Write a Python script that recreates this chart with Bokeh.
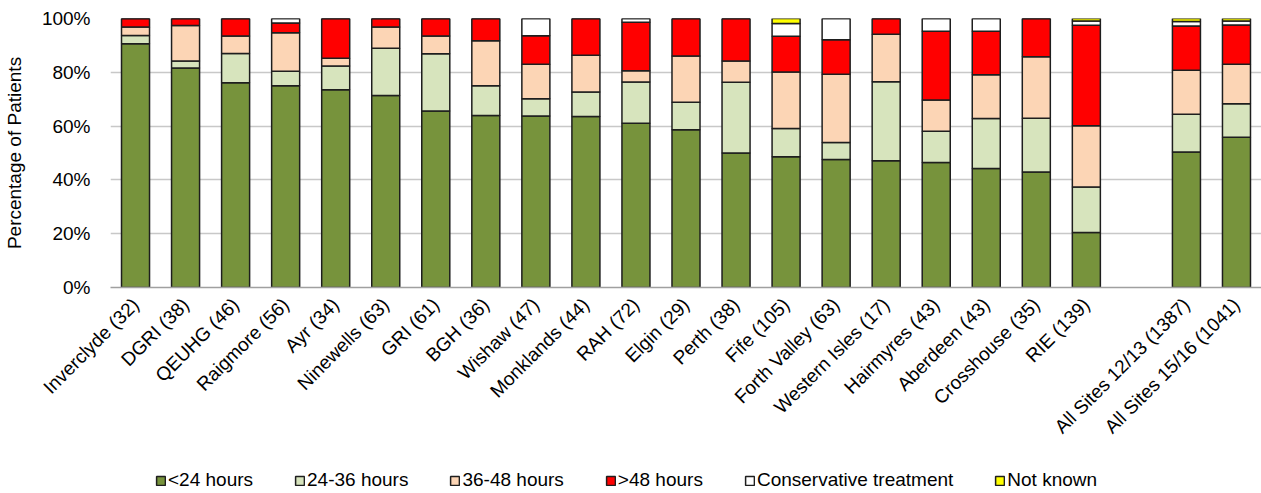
from bokeh.plotting import figure
from bokeh.layouts import column
from bokeh.models import (ColumnDataSource, FactorRange, Range1d, Legend, LegendItem,
                          FixedTicker, PrintfTickFormatter)
from bokeh.embed import file_html
from bokeh.resources import INLINE
import math

nan = float("nan")

# Sites with number of patients; a blank slot separates the two national totals
sites = [
    "Inverclyde (32)", "DGRI (38)", "QEUHG (46)", "Raigmore (56)", "Ayr (34)",
    "Ninewells (63)", "GRI (61)", "BGH (36)", "Wishaw (47)", "Monklands (44)",
    "RAH (72)", "Elgin (29)", "Perth (38)", "Fife (105)", "Forth Valley (63)",
    "Western Isles (17)", "Hairmyres (43)", "Aberdeen (43)", "Crosshouse (35)",
    "RIE (139)", " ", "All Sites 12/13 (1387)", "All Sites 15/16 (1041)",
]

# Percentage of patients in each time-to-surgery group
under_24 = [90.6, 81.6, 76.1, 75.0, 73.5, 71.4, 65.6, 63.9, 63.8, 63.6, 61.1, 58.6,
            50.0, 48.6, 47.6, 47.1, 46.5, 44.2, 42.9, 20.4, nan, 50.4, 55.9]
h24_36 = [3.1, 2.6, 10.9, 5.4, 8.8, 17.5, 21.3, 11.1, 6.4, 9.1, 15.3, 10.3,
          26.3, 10.5, 6.3, 29.4, 11.6, 18.6, 20.0, 17.0, nan, 14.0, 12.4]
h36_48 = [3.1, 13.2, 6.5, 14.3, 2.9, 7.9, 6.6, 16.7, 12.8, 13.6, 4.2, 17.2,
          7.9, 21.0, 25.4, 17.6, 11.6, 16.3, 22.9, 22.7, nan, 16.4, 14.7]
over_48 = [3.2, 2.6, 6.5, 3.6, 14.8, 3.2, 6.5, 8.3, 10.6, 13.7, 18.0, 13.9,
           15.8, 13.3, 12.8, 5.9, 25.6, 16.2, 14.2, 37.4, nan, 16.4, 14.6]
conservative = [0, 0, 0, 1.7, 0, 0, 0, 0, 6.4, 0, 1.4, 0,
                0, 4.7, 7.9, 0, 4.7, 4.7, 0, 1.6, nan, 1.7, 1.5]
not_known = [0, 0, 0, 0, 0, 0, 0, 0, 0, 0, 0, 0,
             0, 1.9, 0, 0, 0, 0, 0, 0.9, nan, 1.1, 0.9]

groups = ["<24 hours", "24-36 hours", "36-48 hours", ">48 hours",
          "Conservative treatment", "Not known"]
keys = ["under_24", "h24_36", "h36_48", "over_48", "conservative", "not_known"]
colors = ["#77933C", "#D7E4BD", "#FCD5B5", "#FF0000", "#FFFFFF", "#FFFF00"]
y_ticks = [0, 20, 40, 60, 80, 100]

source = ColumnDataSource(dict(
    site=sites, under_24=under_24, h24_36=h24_36, h36_48=h36_48,
    over_48=over_48, conservative=conservative, not_known=not_known,
))

FONT = "Liberation Sans"
BAR_STYLE = dict(width=0.56, color=colors, line_color="#1e1e1e", line_width=1.5)

p = figure(
    x_range=FactorRange(*sites), y_range=Range1d(0, 100),
    width=1261, height=455, output_backend="svg", toolbar_location=None,
    min_border_left=110, min_border_right=0, min_border_top=18, min_border_bottom=168,
)
p.outline_line_color = None
p.background_fill_color = "white"

p.vbar_stack(keys, x="site", source=source, **BAR_STYLE)

# y axis: percentages with light horizontal gridlines
p.yaxis.ticker = FixedTicker(ticks=y_ticks)
p.yaxis.formatter = PrintfTickFormatter(format="%d%%")
p.yaxis.axis_line_color = None
p.yaxis.major_tick_line_color = None
p.yaxis.minor_tick_line_color = None
p.yaxis.major_label_standoff = 14
p.yaxis.major_label_text_font = FONT
p.yaxis.major_label_text_font_size = "19px"
p.yaxis.major_label_text_color = "#000000"
p.yaxis.axis_label = "Percentage of Patients"
p.yaxis.axis_label_text_font = FONT
p.yaxis.axis_label_text_font_size = "19px"
p.yaxis.axis_label_text_font_style = "normal"
p.yaxis.axis_label_text_color = "#000000"
p.yaxis.axis_label_standoff = 14
p.ygrid.grid_line_color = "#c8c8c8"
p.ygrid.grid_line_width = 1.5

# x axis: site names on a diagonal
p.xaxis.axis_line_color = "#a0a0a0"
p.xaxis.axis_line_width = 1.5
p.xaxis.major_tick_line_color = None
p.xaxis.minor_tick_line_color = None
p.xaxis.major_label_orientation = math.pi / 4
p.xaxis.major_label_standoff = 8
p.xaxis.major_label_text_font = FONT
p.xaxis.major_label_text_font_size = "19px"
p.xaxis.major_label_text_color = "#000000"
p.xgrid.grid_line_color = None

# Legend strip underneath: same bar styles on a single blank row, so only the key shows
legend_source = ColumnDataSource({"site": [sites[0]], **{k: [nan] for k in keys}})
leg = figure(
    x_range=FactorRange(*sites), y_range=Range1d(0, 100),
    width=1261, height=38, output_backend="svg", toolbar_location=None,
    min_border=0, x_axis_location=None, y_axis_location=None,
)
leg.outline_line_color = None
leg.grid.grid_line_color = None
leg_renderers = leg.vbar_stack(keys, x="site", source=legend_source, **BAR_STYLE)

legend = Legend(
    items=[LegendItem(label=g, renderers=[r]) for g, r in zip(groups, leg_renderers)],
    orientation="horizontal", location=(45, 2),
    glyph_width=11, glyph_height=11, label_standoff=2, spacing=41, label_height=20,
    padding=0, margin=0, border_line_color=None, background_fill_alpha=0,
    label_text_font=FONT, label_text_font_size="19px", label_text_color="#000000",
)
leg.add_layout(legend, "center")

open("out.html", "w").write(file_html(column(p, leg), INLINE))
